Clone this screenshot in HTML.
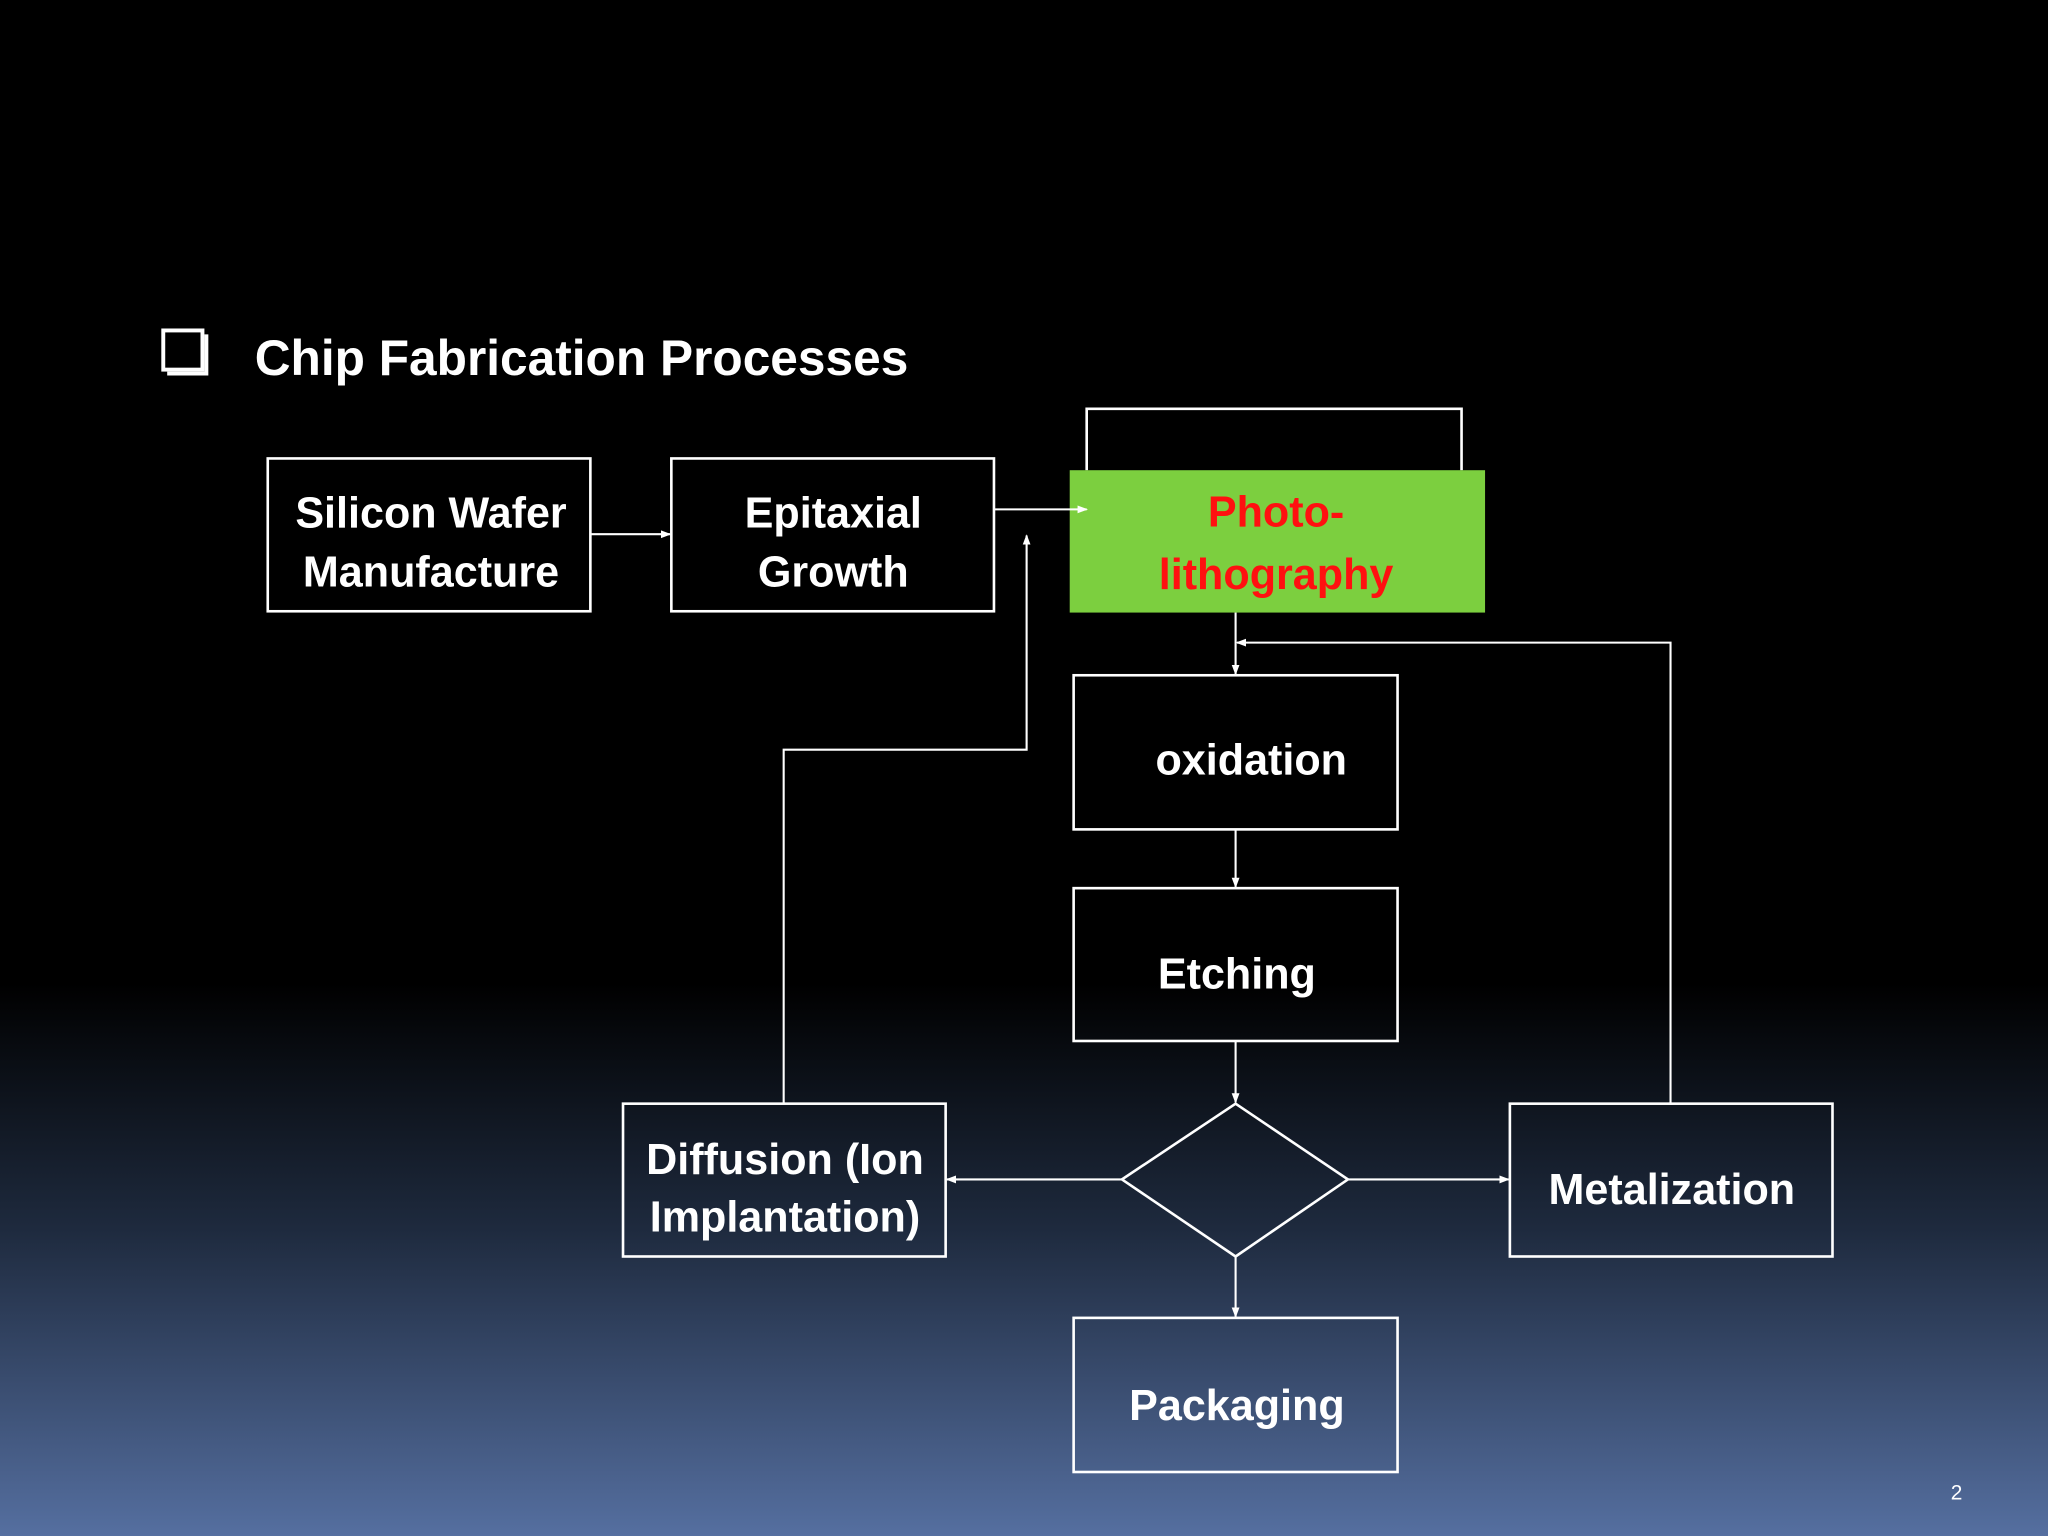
<!DOCTYPE html>
<html><head><meta charset="utf-8"><style>
html,body{margin:0;padding:0;width:2048px;height:1536px;overflow:hidden;background:#000}
svg{display:block}
text{font-family:"Liberation Sans","DejaVu Sans",sans-serif;font-weight:bold;fill:#fff}
</style></head><body>
<svg width="2048" height="1536" viewBox="0 0 1568 1176" xmlns="http://www.w3.org/2000/svg">
<defs>
<linearGradient id="bg" x1="0" y1="0" x2="0" y2="1">
<stop offset="0" stop-color="#000"/>
<stop offset="0.64" stop-color="#000"/>
<stop offset="0.8" stop-color="#1e2a3e"/>
<stop offset="1" stop-color="#556fa0"/>
</linearGradient>
<marker id="a" markerWidth="8" markerHeight="8" refX="7" refY="4" orient="auto" markerUnits="userSpaceOnUse">
<path d="M0,1 L8,4 L0,7 Z" fill="#fff"/>
</marker>
</defs>
<rect width="1568" height="1176" fill="url(#bg)"/>
<!-- checkbox -->
<rect x="125" y="253" width="30" height="30" fill="none" stroke="#fff" stroke-width="3"/>
<path d="M128,286 L158,286 L158,256" stroke="#fff" stroke-width="3" fill="none"/>
<text x="195" y="287" font-size="38">Chip Fabrication Processes</text>
<g fill="none" stroke="#fff" stroke-width="2">
<rect x="205" y="351" width="247" height="117"/>
<rect x="514" y="351" width="247" height="117"/>
<rect x="822" y="517" width="248" height="118"/>
<rect x="822" y="680" width="248" height="117"/>
<rect x="477" y="845" width="247" height="117"/>
<rect x="1156" y="845" width="247" height="117"/>
<rect x="822" y="1009" width="248" height="118"/>
<path d="M946,845 L1032,903 L946,962 L859,903 Z"/>
<path d="M832,360 L832,313 L1119,313 L1119,360"/>
</g>
<rect x="819" y="360" width="318" height="109" fill="#7ccf3f"/>
<g fill="none" stroke="#fff" stroke-width="1.6">
<line x1="452" y1="409" x2="513" y2="409" marker-end="url(#a)"/>
<line x1="761" y1="390" x2="832" y2="390" marker-end="url(#a)"/>
<line x1="946" y1="469" x2="946" y2="516" marker-end="url(#a)"/>
<line x1="946" y1="635" x2="946" y2="679" marker-end="url(#a)"/>
<line x1="946" y1="797" x2="946" y2="844" marker-end="url(#a)"/>
<line x1="946" y1="962" x2="946" y2="1008" marker-end="url(#a)"/>
<line x1="859" y1="903" x2="725" y2="903" marker-end="url(#a)"/>
<line x1="1032" y1="903" x2="1155" y2="903" marker-end="url(#a)"/>
<polyline points="600,845 600,574 786,574 786,410" marker-end="url(#a)"/>
<polyline points="1279,845 1279,492 947,492" marker-end="url(#a)"/>
</g>
<g font-size="33" text-anchor="middle">
<text x="330" y="404">Silicon Wafer</text>
<text x="330" y="449">Manufacture</text>
<text x="638" y="404">Epitaxial</text>
<text x="638" y="449">Growth</text>
<text x="977" y="403" style="fill:#ff1010">Photo-</text>
<text x="977" y="451" style="fill:#ff1010">lithography</text>
<text x="958" y="593">oxidation</text>
<text x="947" y="757">Etching</text>
<text x="601" y="899">Diffusion (Ion</text>
<text x="601" y="943">Implantation)</text>
<text x="1280" y="922">Metalization</text>
<text x="947" y="1087">Packaging</text>
</g>
<text x="1498" y="1148" font-size="16" font-weight="normal" text-anchor="middle" style="font-weight:normal">2</text>
</svg>
</body></html>
